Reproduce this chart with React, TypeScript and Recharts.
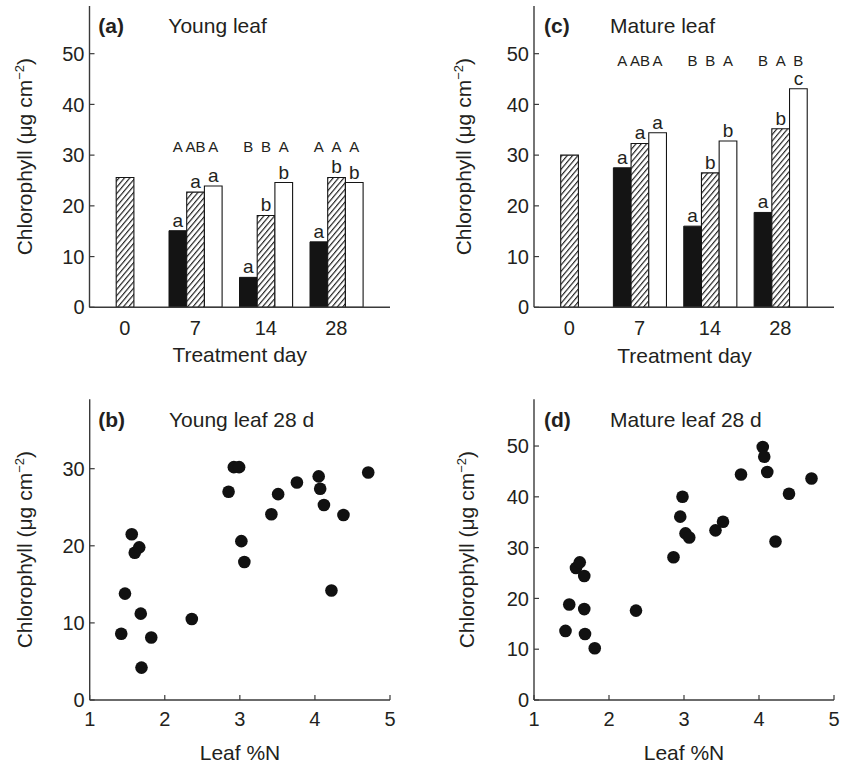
import React from 'react';
import { BarChart, Bar, XAxis, YAxis, ScatterChart, Scatter, LabelList } from 'recharts';

const FONT = '"Liberation Sans", Arial, Helvetica, sans-serif';
const INK = '#231f20';
const FRAME = '#3a3a3a';

// ---------- bar panels ----------
const days = ['0', '7', '14', '28'];

// (a) Young leaf
const youngBlack = [null, 15.1, 5.9, 12.9];
const youngHatched = [25.6, 22.7, 18.1, 25.6];
const youngWhite = [null, 23.9, 24.6, 24.6];
const youngLowBlack = ['', 'a', 'a', 'a'];
const youngLowHatched = ['', 'a', 'b', 'b'];
const youngLowWhite = ['', 'a', 'b', 'b'];
const youngUpBlack = ['', 'A', 'B', 'A'];
const youngUpHatched = ['', 'AB', 'B', 'A'];
const youngUpWhite = ['', 'A', 'A', 'A'];
const youngUpperRow = 30.7;

// (c) Mature leaf
const matureBlack = [null, 27.5, 16.0, 18.7];
const matureHatched = [30.0, 32.3, 26.5, 35.2];
const matureWhite = [null, 34.4, 32.8, 43.1];
const matureLowBlack = ['', 'a', 'a', 'a'];
const matureLowHatched = ['', 'a', 'b', 'b'];
const matureLowWhite = ['', 'a', 'b', 'c'];
const matureUpBlack = ['', 'A', 'B', 'B'];
const matureUpHatched = ['', 'AB', 'B', 'A'];
const matureUpWhite = ['', 'A', 'A', 'B'];
const matureUpperRow = 47.5;

const barTicks = [0, 10, 20, 30, 40, 50];
const barYMax = 59.4;

// ---------- scatter panels ----------
// (b) Young leaf 28 d
const youngN = [1.42, 1.47, 1.56, 1.6, 1.66, 1.68, 1.69, 1.82, 2.36, 2.85, 2.92, 2.99, 3.02, 3.06, 3.42, 3.51, 3.76, 4.05, 4.07, 4.12, 4.22, 4.38, 4.71];
const youngChl = [8.6, 13.8, 21.5, 19.1, 19.8, 11.2, 4.2, 8.1, 10.5, 27.0, 30.2, 30.2, 20.6, 17.9, 24.1, 26.7, 28.2, 29.0, 27.4, 25.3, 14.2, 24.0, 29.5];
// (d) Mature leaf 28 d
const matureN = [1.42, 1.47, 1.56, 1.61, 1.67, 1.67, 1.68, 1.81, 2.36, 2.86, 2.95, 2.98, 3.02, 3.07, 3.42, 3.52, 3.76, 4.05, 4.07, 4.11, 4.22, 4.4, 4.7];
const matureChl = [13.6, 18.8, 26.0, 27.1, 24.4, 17.9, 13.0, 10.2, 17.6, 28.1, 36.1, 40.0, 32.8, 32.0, 33.4, 35.1, 44.4, 49.8, 47.9, 44.9, 31.2, 40.6, 43.6];

const nTicks = [1, 2, 3, 4, 5];
const youngScatterTicks = [0, 10, 20, 30];
const youngScatterMax = 39;
const matureScatterTicks = [0, 10, 20, 30, 40, 50];
const matureScatterMax = 59.2;

const tickStyle = { fill: INK, fontSize: 20, fontFamily: FONT };

function upperLabel(rowValue: number) {
  return (props: any) => {
    const vb = props.viewBox || props;
    const parts = String(props.value ?? '').split('|');
    const letter = parts[0];
    const val = Number(parts[1]);
    if (!letter || !val || !vb || !vb.height) return null;
    const zeroY = vb.y + vb.height;
    const yPix = zeroY - (vb.height * rowValue) / val;
    return (
      <text x={vb.x + vb.width / 2} y={yPix} textAnchor="middle" fill={INK} fontSize={15} fontFamily={FONT}>
        {letter}
      </text>
    );
  };
}

type BarPanelProps = {
  left: number;
  top: number;
  yAxisWidth: number;
  marginRight: number;
  black: (number | null)[];
  hatched: number[];
  white: (number | null)[];
  lowB: string[];
  lowH: string[];
  lowW: string[];
  upB: string[];
  upH: string[];
  upW: string[];
  upperRow: number;
};

function BarPanel(p: BarPanelProps) {
  const rows = days.map((d, i) => ({
    day: d,
    black: p.black[i],
    hatched: p.hatched[i],
    white: p.white[i],
    lowB: p.lowB[i],
    lowH: p.lowH[i],
    lowW: p.lowW[i],
    upB: `${p.upB[i]}|${p.black[i] ?? ''}`,
    upH: `${p.upH[i]}|${p.hatched[i] ?? ''}`,
    upW: `${p.upW[i]}|${p.white[i] ?? ''}`,
  }));
  const lowStyle = { fill: INK, fontSize: 19, fontFamily: FONT };
  return (
    <div style={{ position: 'absolute', left: p.left, top: p.top }}>
      <BarChart
        width={424}
        height={380}
        data={rows}
        margin={{ top: 6, right: p.marginRight, bottom: 42.7, left: 0 }}
        barSize={17.7}
        barGap={0}
      >
        <XAxis
          dataKey="day"
          height={30}
          tickLine={false}
          tickSize={0}
          tickMargin={13.5}
          padding={{ left: 0, right: 18.5 }}
          axisLine={{ stroke: FRAME, strokeWidth: 1.4 }}
          tick={tickStyle}
          interval={0}
        />
        <XAxis
          xAxisId="top"
          orientation="top"
          dataKey="day"
          height={0}
          tick={false}
          tickLine={false}
          axisLine={{ stroke: FRAME, strokeWidth: 1.4 }}
        />
        <YAxis
          type="number"
          domain={[0, barYMax]}
          ticks={barTicks}
          allowDataOverflow
          width={p.yAxisWidth}
          tickSize={-5}
          tickMargin={10}
          axisLine={{ stroke: FRAME, strokeWidth: 1.4 }}
          tickLine={{ stroke: FRAME, strokeWidth: 1.2 }}
          tick={tickStyle}
          interval={0}
        />
        <YAxis
          yAxisId="r"
          orientation="right"
          type="number"
          domain={[0, barYMax]}
          width={0}
          tick={false}
          tickLine={false}
          axisLine={{ stroke: FRAME, strokeWidth: 1.4 }}
        />
        <Bar dataKey="black" fill="#141414" stroke="#141414" strokeWidth={1} isAnimationActive={false}>
          <LabelList dataKey="lowB" position="top" offset={4} style={lowStyle} />
          <LabelList dataKey="upB" content={upperLabel(p.upperRow)} />
        </Bar>
        <Bar dataKey="hatched" fill="url(#hatch)" stroke="#141414" strokeWidth={1.1} isAnimationActive={false}>
          <LabelList dataKey="lowH" position="top" offset={4} style={lowStyle} />
          <LabelList dataKey="upH" content={upperLabel(p.upperRow)} />
        </Bar>
        <Bar dataKey="white" fill="#ffffff" stroke="#141414" strokeWidth={1.1} isAnimationActive={false}>
          <LabelList dataKey="lowW" position="top" offset={4} style={lowStyle} />
          <LabelList dataKey="upW" content={upperLabel(p.upperRow)} />
        </Bar>
      </BarChart>
    </div>
  );
}

type ScatterPanelProps = {
  left: number;
  top: number;
  yAxisWidth: number;
  marginRight: number;
  n: number[];
  chl: number[];
  yTicks: number[];
  yMax: number;
};

const Dot = (props: any) => {
  const { cx, cy } = props;
  if (cx == null || cy == null) return null;
  return <circle cx={cx} cy={cy} r={6.3} fill="#111111" />;
};

function ScatterPanel(p: ScatterPanelProps) {
  const pts = p.n.map((v, i) => ({ n: v, c: p.chl[i] }));
  return (
    <div style={{ position: 'absolute', left: p.left, top: p.top }}>
      <ScatterChart width={424} height={387} margin={{ top: 19.3, right: p.marginRight, bottom: 37, left: 0 }}>
        <XAxis
          type="number"
          dataKey="n"
          domain={[1, 5]}
          ticks={nTicks}
          allowDataOverflow
          height={30}
          tickSize={-5}
          tickMargin={16.5}
          axisLine={{ stroke: FRAME, strokeWidth: 1.4 }}
          tickLine={{ stroke: FRAME, strokeWidth: 1.2 }}
          tick={tickStyle}
          interval={0}
        />
        <XAxis
          xAxisId="top"
          orientation="top"
          type="number"
          domain={[1, 5]}
          height={0}
          tick={false}
          tickLine={false}
          axisLine={{ stroke: FRAME, strokeWidth: 1.4 }}
        />
        <YAxis
          type="number"
          dataKey="c"
          domain={[0, p.yMax]}
          ticks={p.yTicks}
          allowDataOverflow
          width={p.yAxisWidth}
          tickSize={-5}
          tickMargin={10}
          axisLine={{ stroke: FRAME, strokeWidth: 1.4 }}
          tickLine={{ stroke: FRAME, strokeWidth: 1.2 }}
          tick={tickStyle}
          interval={0}
        />
        <YAxis
          yAxisId="r"
          orientation="right"
          type="number"
          domain={[0, p.yMax]}
          width={0}
          tick={false}
          tickLine={false}
          axisLine={{ stroke: FRAME, strokeWidth: 1.4 }}
        />
        <Scatter data={pts} fill="#111111" shape={Dot} isAnimationActive={false} />
      </ScatterChart>
    </div>
  );
}

function YLabel({ x, y }: { x: number; y: number }) {
  return (
    <text transform={`translate(${x},${y}) rotate(-90)`} textAnchor="middle" fontSize={21} fill={INK} fontFamily={FONT}>
      Chlorophyll (μg cm<tspan dy={-8} fontSize={13}>−2</tspan>
      <tspan dy={8}>)</tspan>
    </text>
  );
}

export default function App() {
  return (
    <div style={{ position: 'absolute', left: 0, top: 0, width: 848, height: 767, background: '#ffffff', fontFamily: FONT }}>
      <svg width={0} height={0} style={{ position: 'absolute' }}>
        <defs>
          <pattern id="hatch" patternUnits="userSpaceOnUse" width={4.1} height={4.1} patternTransform="rotate(40)">
            <rect x={0} y={0} width={4.1} height={4.1} fill="#ffffff" />
            <line x1={0.6} y1={0} x2={0.6} y2={4.1} stroke="#141414" strokeWidth={1.1} />
          </pattern>
        </defs>
      </svg>

      <BarPanel
        left={0}
        top={0}
        yAxisWidth={89.5}
        marginRight={34}
        black={youngBlack}
        hatched={youngHatched}
        white={youngWhite}
        lowB={youngLowBlack}
        lowH={youngLowHatched}
        lowW={youngLowWhite}
        upB={youngUpBlack}
        upH={youngUpHatched}
        upW={youngUpWhite}
        upperRow={youngUpperRow}
      />
      <BarPanel
        left={424}
        top={0}
        yAxisWidth={110}
        marginRight={14}
        black={matureBlack}
        hatched={matureHatched}
        white={matureWhite}
        lowB={matureLowBlack}
        lowH={matureLowHatched}
        lowW={matureLowWhite}
        upB={matureUpBlack}
        upH={matureUpHatched}
        upW={matureUpWhite}
        upperRow={matureUpperRow}
      />
      <ScatterPanel
        left={0}
        top={380}
        yAxisWidth={89.7}
        marginRight={34}
        n={youngN}
        chl={youngChl}
        yTicks={youngScatterTicks}
        yMax={youngScatterMax}
      />
      <ScatterPanel
        left={424}
        top={380}
        yAxisWidth={110}
        marginRight={14}
        n={matureN}
        chl={matureChl}
        yTicks={matureScatterTicks}
        yMax={matureScatterMax}
      />

      <svg width={848} height={767} style={{ position: 'absolute', left: 0, top: 0, pointerEvents: 'none' }}>
        <g fill={INK} fontFamily={FONT}>
          <text x={98.3} y={33} fontSize={21} fontWeight="bold">(a)</text>
          <text x={168.3} y={33} fontSize={21}>Young leaf</text>
          <text x={544} y={33} fontSize={21} fontWeight="bold">(c)</text>
          <text x={610} y={33} fontSize={21}>Mature leaf</text>
          <text x={98.3} y={426.5} fontSize={21} fontWeight="bold">(b)</text>
          <text x={169} y={426.5} fontSize={21}>Young leaf 28 d</text>
          <text x={544} y={426.5} fontSize={21} fontWeight="bold">(d)</text>
          <text x={610} y={426.5} fontSize={21}>Mature leaf 28 d</text>

          <text x={239.7} y={362} fontSize={21} textAnchor="middle">Treatment day</text>
          <text x={684.5} y={362.5} fontSize={21} textAnchor="middle">Treatment day</text>
          <text x={240} y={760} fontSize={21} textAnchor="middle">Leaf %N</text>
          <text x={684} y={760} fontSize={21} textAnchor="middle">Leaf %N</text>
        </g>
        <YLabel x={32.3} y={156.7} />
        <YLabel x={471} y={156.7} />
        <YLabel x={32.3} y={549.7} />
        <YLabel x={474} y={549.7} />
      </svg>
    </div>
  );
}
